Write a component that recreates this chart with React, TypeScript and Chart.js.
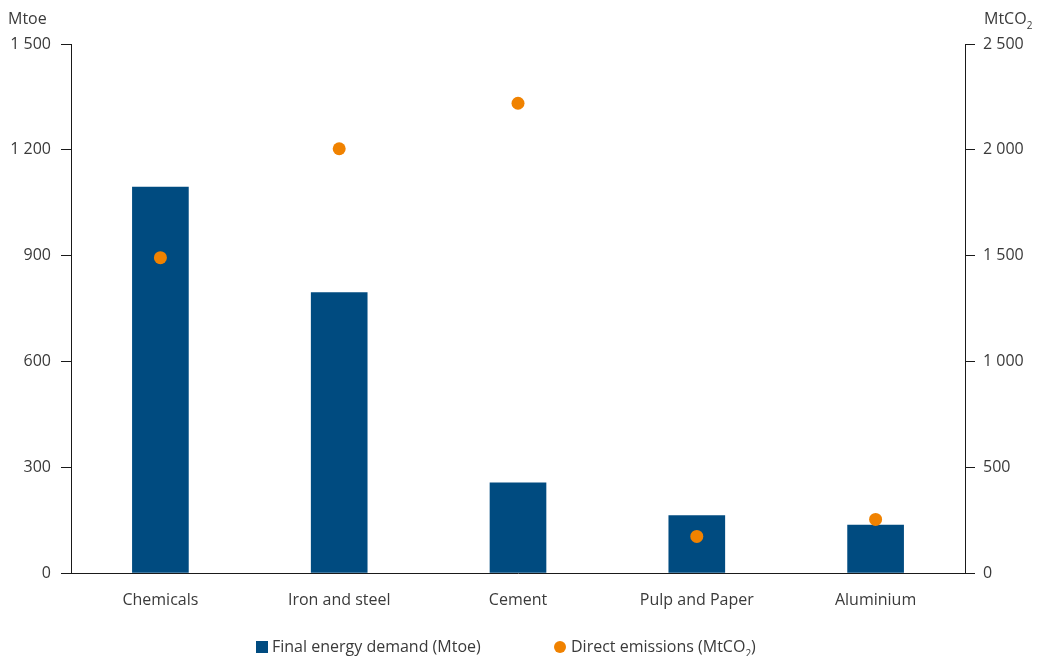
import React, { useEffect, useRef } from "react";
import { Chart, registerables } from "chart.js";

Chart.register(...registerables);

const categories = ["Chemicals", "Iron and steel", "Cement", "Pulp and Paper", "Aluminium"];
const energyDemand = [1094, 795, 256, 163, 136];
const directEmissions = [1490, 2005, 2220, 173, 253];
const leftTicks = [0, 300, 600, 900, 1200, 1500];
const rightTicks = [0, 500, 1000, 1500, 2000, 2500];

const BAR_COLOR = "#004b80";
const DOT_COLOR = "#f08200";
const TEXT_COLOR = "#3a3a3a";
const AXIS_COLOR = "#1a1a1a";
const FONT = "'Open Sans', sans-serif";

const fmt = (v: number) => String(v).replace(/\B(?=(\d{3})+(?!\d))/g, " ");

export default function App() {
  const ref = useRef<HTMLCanvasElement | null>(null);

  useEffect(() => {
    document.body.style.margin = "0";
    const ctx = ref.current!.getContext("2d")!;
    const chart = new Chart(ctx, {
      type: "bar",
      data: {
        labels: categories,
        datasets: [
          {
            type: "scatter" as any,
            label: "Direct emissions (MtCO2)",
            data: directEmissions as any,
            yAxisID: "y1",
            backgroundColor: DOT_COLOR,
            borderWidth: 0,
            pointRadius: 6.5,
            showLine: false,
            order: 0,
          } as any,
          {
            type: "bar",
            label: "Final energy demand (Mtoe)",
            data: energyDemand,
            yAxisID: "y",
            backgroundColor: BAR_COLOR,
            barThickness: 56,
            order: 1,
          },
        ],
      },
      options: {
        animation: false,
        responsive: false,
        maintainAspectRatio: false,
        layout: { padding: { top: 44, left: 0, right: 0, bottom: 0 } },
        plugins: { legend: { display: false }, tooltip: { enabled: false } },
        scales: {
          x: {
            type: "category",
            offset: true,
            grid: { display: true, drawOnChartArea: false, drawTicks: false },
            border: { display: true, color: AXIS_COLOR, width: 1 },
            ticks: { color: TEXT_COLOR, font: { family: FONT, size: 16 }, padding: 18, maxRotation: 0 },
            afterFit: (s: any) => { s.height = 83; },
          },
          y: {
            position: "left",
            min: 0,
            max: 1500,
            afterBuildTicks: (s: any) => { s.ticks = leftTicks.map((v) => ({ value: v })); },
            grid: { drawOnChartArea: false, drawTicks: true, tickLength: 10, color: AXIS_COLOR },
            border: { display: true, color: AXIS_COLOR, width: 1 },
            ticks: { color: TEXT_COLOR, font: { family: FONT, size: 16 }, padding: 10, callback: (v: any) => fmt(Number(v)) },
            afterFit: (s: any) => { s.width = 71; },
          },
          y1: {
            position: "right",
            min: 0,
            max: 2500,
            afterBuildTicks: (s: any) => { s.ticks = rightTicks.map((v) => ({ value: v })); },
            grid: { drawOnChartArea: false, drawTicks: true, tickLength: 10, color: AXIS_COLOR },
            border: { display: true, color: AXIS_COLOR, width: 1 },
            ticks: { color: TEXT_COLOR, font: { family: FONT, size: 16 }, padding: 8, callback: (v: any) => fmt(Number(v)) },
            afterFit: (s: any) => { s.width = 76; },
          },
        },
      } as any,
    });
    return () => chart.destroy();
  }, []);

  const textStyle: React.CSSProperties = { position: "absolute", fontFamily: FONT, fontSize: 16, color: TEXT_COLOR, whiteSpace: "nowrap", lineHeight: "20px" };
  const subStyle: React.CSSProperties = { fontSize: 10, position: "relative", top: 5 };

  return (
    <div style={{ position: "absolute", left: 0, top: 0, width: 1041, height: 656, background: "#fff" }}>
      <canvas ref={ref} width={1041} height={656} style={{ position: "absolute", left: 0, top: 0, width: 1041, height: 656 }} />
      <div style={{ ...textStyle, left: 8, top: 8 }}>Mtoe</div>
      <div style={{ ...textStyle, left: 984, top: 8 }}>
        MtCO<span style={subStyle}>2</span>
      </div>
      <div style={{ ...textStyle, left: 256, top: 636 }}>
        <span style={{ display: "inline-block", width: 12, height: 12, background: BAR_COLOR, marginRight: 4, verticalAlign: "-1px" }} />
        Final energy demand (Mtoe)
      </div>
      <div style={{ ...textStyle, left: 554, top: 636 }}>
        <span style={{ display: "inline-block", width: 12, height: 12, borderRadius: 6, background: DOT_COLOR, marginRight: 5, verticalAlign: "-1px" }} />
        Direct emissions (MtCO<span style={subStyle}>2</span>)
      </div>
    </div>
  );
}
